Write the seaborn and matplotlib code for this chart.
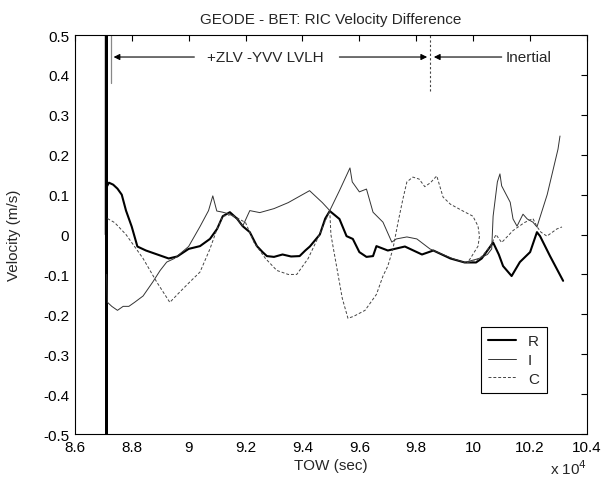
import numpy as np
import pandas as pd
import matplotlib
matplotlib.use("Agg")
import matplotlib.pyplot as plt
import seaborn as sns

# ---- data (TOW in units of 1e4 s, velocity difference in m/s) ----
r_tow = [8.7090, 8.7095, 8.7100, 8.7105, 8.7110, 8.7115, 8.7120, 8.7125,
         8.72, 8.735, 8.75, 8.765, 8.78, 8.80, 8.82, 8.85, 8.89, 8.93, 8.96,
         9.00, 9.04, 9.075, 9.10, 9.12, 9.145, 9.17, 9.19, 9.215, 9.24, 9.26,
         9.275, 9.30, 9.33, 9.36, 9.39, 9.41, 9.426, 9.461, 9.48, 9.496, 9.53,
         9.555, 9.577, 9.60, 9.625, 9.648, 9.66, 9.70, 9.76, 9.82, 9.86, 9.92,
         9.97, 10.01, 10.03, 10.05, 10.07, 10.09, 10.105, 10.135, 10.164, 10.20,
         10.224, 10.235, 10.27, 10.316]
r_vel = [0.0, 0.55, -0.55, 0.33, -0.30, 0.55, -0.55, 0.12,
         0.13, 0.125, 0.115, 0.10, 0.06, 0.02, -0.03, -0.04, -0.05, -0.06, -0.055,
         -0.036, -0.029, -0.011, 0.014, 0.046, 0.056, 0.04, 0.021, 0.006, -0.029, -0.044,
         -0.054, -0.056, -0.05, -0.055, -0.054, -0.04, -0.03, 0.0, 0.04, 0.059, 0.039,
         -0.004, -0.011, -0.044, -0.056, -0.054, -0.029, -0.04, -0.03, -0.05, -0.04, -0.06,
         -0.07, -0.07, -0.06, -0.04, -0.02, -0.05, -0.079, -0.104, -0.069, -0.044,
         0.006, -0.004, -0.054, -0.116]

i_tow = [8.712, 8.715, 8.73, 8.75, 8.77, 8.79, 8.81, 8.84, 8.874, 8.90, 8.923,
         8.95, 9.00, 9.04, 9.07, 9.085, 9.099, 9.12, 9.145, 9.17, 9.19, 9.215,
         9.25, 9.30, 9.35, 9.40, 9.425, 9.44, 9.47, 9.496, 9.53, 9.567, 9.575,
         9.60, 9.625, 9.648, 9.683, 9.714, 9.73, 9.767, 9.802, 9.848, 9.873,
         9.93, 9.97, 10.02, 10.05, 10.065, 10.07, 10.085, 10.094, 10.10, 10.13,
         10.14, 10.154, 10.175, 10.19, 10.21, 10.224, 10.26, 10.298, 10.305]
i_vel = [-0.10, -0.17, -0.18, -0.19, -0.18, -0.18, -0.17, -0.154, -0.119, -0.09, -0.069,
         -0.06, -0.03, 0.02, 0.06, 0.097, 0.059, 0.056, 0.051, 0.039, 0.021, 0.06,
         0.055, 0.065, 0.08, 0.10, 0.11, 0.10, 0.08, 0.06, 0.11, 0.167, 0.132,
         0.107, 0.114, 0.056, 0.031, -0.019, -0.011, -0.006, -0.011, -0.036, -0.044,
         -0.061, -0.07, -0.06, -0.05, -0.036, 0.046, 0.132, 0.152, 0.122, 0.081,
         0.039, 0.021, 0.051, 0.039, 0.031, 0.019, 0.10, 0.214, 0.247]

c_tow = [8.715, 8.74, 8.78, 8.84, 8.888, 8.934, 8.969, 9.004, 9.04, 9.075, 9.10,
         9.12, 9.15, 9.20, 9.23, 9.27, 9.31, 9.35, 9.38, 9.42, 9.46, 9.496, 9.50,
         9.52, 9.54, 9.56, 9.58, 9.62, 9.66, 9.683, 9.70, 9.718, 9.736, 9.753,
         9.767, 9.788, 9.81, 9.83, 9.85, 9.872, 9.894, 9.92, 9.964, 9.999, 10.017,
         10.022, 10.017, 9.99, 9.98, 10.01, 10.03, 10.06, 10.08, 10.10, 10.14,
         10.18, 10.21, 10.224, 10.238, 10.259, 10.294, 10.312]
c_vel = [0.04, 0.03, 0.0, -0.06, -0.119, -0.17, -0.144, -0.119, -0.094, -0.036, 0.014,
         0.046, 0.05, 0.03, -0.02, -0.06, -0.09, -0.10, -0.10, -0.06, 0.0, 0.06, 0.0,
         -0.08, -0.16, -0.21, -0.205, -0.19, -0.15, -0.104, -0.079, -0.036, 0.031, 0.089,
         0.132, 0.144, 0.139, 0.12, 0.13, 0.147, 0.094, 0.076, 0.059, 0.046, 0.021,
         -0.004, -0.029, -0.06, -0.07, -0.065, -0.055, -0.03, 0.0, -0.02, 0.01,
         0.03, 0.04, 0.02, 0.006, -0.004, 0.014, 0.019]

series_names = ["R", "I", "C"]
x_ticks = [8.6, 8.8, 9.0, 9.2, 9.4, 9.6, 9.8, 10.0, 10.2, 10.4]
y_ticks = [0.5, 0.4, 0.3, 0.2, 0.1, 0.0, -0.1, -0.2, -0.3, -0.4, -0.5]

# ---- styling ----
sns.set_style("white")
plt.rcParams["font.family"] = ["Liberation Sans", "DejaVu Sans"]
plt.rcParams["axes.unicode_minus"] = False

fig = plt.figure(figsize=(6.08, 4.81), dpi=100)
ax = fig.add_axes([0.123, 0.0956, 0.8425, 0.8294])

df = pd.concat([
    pd.DataFrame({"TOW": r_tow, "vel": r_vel, "comp": "R"}),
    pd.DataFrame({"TOW": i_tow, "vel": i_vel, "comp": "I"}),
    pd.DataFrame({"TOW": c_tow, "vel": c_vel, "comp": "C"}),
], ignore_index=True)

styles = {"R": dict(color="black", lw=1.5, ls="-"),
          "I": dict(color="#333333", lw=0.7, ls="-"),
          "C": dict(color="#444444", lw=0.7, ls=(0, (3, 2)))}
for name in series_names:
    sub = df[df["comp"] == name]
    sns.lineplot(data=sub, x="TOW", y="vel", ax=ax, sort=False, estimator=None,
                 label=name, color=styles[name]["color"], linewidth=styles[name]["lw"],
                 linestyle=styles[name]["ls"])

ax.set_xlim(8.6, 10.4)
ax.set_ylim(-0.5, 0.5)
ax.set_xticks(x_ticks)
ax.set_xticklabels(["%g" % v for v in x_ticks])
ax.set_yticks(y_ticks)
ax.set_yticklabels(["%g" % v for v in y_ticks])
ax.tick_params(direction="in", length=4, width=0.8, labelsize=11, top=True, right=True,
               pad=4, colors="black")
for s in ax.spines.values():
    s.set_color("black")
    s.set_linewidth(0.8)

ax.set_title("GEODE - BET: RIC Velocity Difference", fontsize=11, pad=9)
ax.set_xlabel("TOW (sec)", fontsize=11, labelpad=3)
ax.set_ylabel("Velocity (m/s)", fontsize=11, labelpad=16)
ax.text(1.0, -0.1, r"x 10$^{4}$", transform=ax.transAxes, ha="right", va="baseline",
        fontsize=11)

# mode annotations
ax.plot([8.7266, 8.7266], [0.38, 0.5], color="#888888", lw=0.9)
ax.plot([9.848, 9.848], [0.36, 0.5], color="#444444", lw=0.8, ls=(0, (2, 2)))
ax.text(9.27, 0.445, "+ZLV -YVV LVLH", ha="center", va="center", fontsize=11)
ax.annotate("", xy=(8.7266, 0.445), xytext=(9.03, 0.445),
            arrowprops=dict(arrowstyle="-|>", color="black", lw=0.8, mutation_scale=9))
ax.annotate("", xy=(9.848, 0.445), xytext=(9.52, 0.445),
            arrowprops=dict(arrowstyle="-|>", color="black", lw=0.8, mutation_scale=9))
ax.annotate("", xy=(9.852, 0.445), xytext=(10.11, 0.445),
            arrowprops=dict(arrowstyle="-|>", color="black", lw=0.8, mutation_scale=9))
ax.text(10.196, 0.445, "Inertial", ha="center", va="center", fontsize=11)

leg = ax.legend(loc="lower right", bbox_to_anchor=(0.936, 0.083), fontsize=11,
                frameon=True, fancybox=False, framealpha=1, edgecolor="black",
                handlelength=1.8, labelspacing=0.3, borderpad=0.5, handletextpad=0.8)
leg.get_frame().set_linewidth(0.8)

fig.savefig("out.png", dpi=100)
